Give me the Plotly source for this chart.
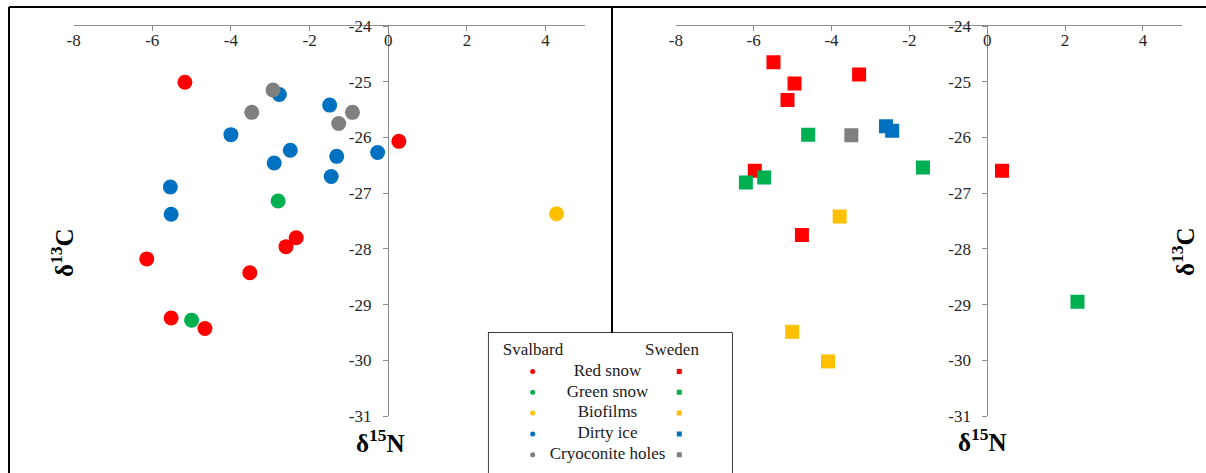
import plotly.graph_objects as go

# ---------------- data (δ15N, δ13C) ----------------
categories = ["Red snow", "Green snow", "Biofilms", "Dirty ice", "Cryoconite holes"]
colors = ["#FF0000", "#00B050", "#FFC000", "#0070C0", "#7F7F7F"]

# Svalbard (left panel, circles)
sval_red_x = [-5.17, 0.27, -2.34, -2.60, -6.14, -3.52, -5.52, -4.66]
sval_red_y = [-25.01, -26.07, -27.80, -27.96, -28.18, -28.43, -29.24, -29.43]
sval_green_x = [-2.80, -5.00]
sval_green_y = [-27.14, -29.28]
sval_bio_x = [4.28]
sval_bio_y = [-27.37]
sval_dirty_x = [-2.77, -1.49, -4.00, -2.49, -0.27, -1.31, -2.90, -1.45, -5.54, -5.52]
sval_dirty_y = [-25.23, -25.42, -25.95, -26.23, -26.27, -26.34, -26.46, -26.70, -26.89, -27.38]
sval_cryo_x = [-2.93, -3.47, -0.91, -1.26]
sval_cryo_y = [-25.15, -25.55, -25.55, -25.75]

# Sweden (right panel, squares)
swe_red_x = [-5.49, -3.29, -4.95, -5.13, 0.38, -5.97, -4.76]
swe_red_y = [-24.65, -24.87, -25.03, -25.33, -26.60, -26.60, -27.75]
swe_green_x = [-4.60, -1.65, -5.73, -6.20, 2.32]
swe_green_y = [-25.95, -26.54, -26.72, -26.81, -28.95]
swe_bio_x = [-3.79, -5.01, -4.09]
swe_bio_y = [-27.42, -29.49, -30.02]
swe_dirty_x = [-2.60, -2.44]
swe_dirty_y = [-25.80, -25.88]
swe_cryo_x = [-3.49]
swe_cryo_y = [-25.96]

x_range = [-8, 5]
y_range = [-31, -24]
x_tick_vals = [-8, -6, -4, -2, 0, 2, 4]
x_tick_text = ["-8", "-6", "-4", "-2", "0", "2", "4"]
y_tick_vals = [-31, -30, -29, -28, -27, -26, -25, -24]
y_tick_text = ["-31", "-30", "-29", "-28", "-27", "-26", "-25", "-24"]

# ---------------- layout helpers ----------------
W, H = 1206, 473
def px(v):
    return v / W
def py(v):
    return 1 - v / H

SERIF = "Liberation Serif, Times New Roman, serif"
AX = "#8C8C8C"
TXT = "#262626"

fig = go.Figure()

sval = [(sval_red_x, sval_red_y), (sval_green_x, sval_green_y), (sval_bio_x, sval_bio_y),
        (sval_dirty_x, sval_dirty_y), (sval_cryo_x, sval_cryo_y)]
swe = [(swe_red_x, swe_red_y), (swe_green_x, swe_green_y), (swe_bio_x, swe_bio_y),
       (swe_dirty_x, swe_dirty_y), (swe_cryo_x, swe_cryo_y)]

for (xs, ys), c, name in zip(sval, colors, categories):
    fig.add_trace(go.Scatter(x=xs, y=ys, mode="markers", name="Svalbard " + name,
                             marker=dict(symbol="circle", size=15, color=c, line=dict(width=0)),
                             xaxis="x", yaxis="y", showlegend=False))
for (xs, ys), c, name in zip(swe, colors, categories):
    fig.add_trace(go.Scatter(x=xs, y=ys, mode="markers", name="Sweden " + name,
                             marker=dict(symbol="square", size=14, color=c, line=dict(width=0)),
                             xaxis="x2", yaxis="y2", showlegend=False))

# ---------------- custom legend (in its own hidden axes) ----------------
box_l, box_r, box_t = 488.7, 732.0, 333.0
leg_rows = [38.5, 59.3, 80.1, 100.9, 121.7]
fig.add_trace(go.Scatter(x=[44] * 5, y=leg_rows, mode="markers",
                         marker=dict(symbol="circle", size=5, color=colors),
                         xaxis="x3", yaxis="y3", showlegend=False, hoverinfo="skip"))
fig.add_trace(go.Scatter(x=[190.6] * 5, y=leg_rows, mode="markers",
                         marker=dict(symbol="square", size=5, color=colors),
                         xaxis="x3", yaxis="y3", showlegend=False, hoverinfo="skip"))
fig.add_trace(go.Scatter(x=[118.8] * 5, y=leg_rows, mode="text", text=categories,
                         textposition="middle center",
                         textfont=dict(family=SERIF, size=17, color="#1A1A1A"),
                         xaxis="x3", yaxis="y3", showlegend=False, hoverinfo="skip"))
fig.add_trace(go.Scatter(x=[44.3, 183.3], y=[17.7, 17.7], mode="text", text=["Svalbard", "Sweden"],
                         textposition="middle center",
                         textfont=dict(family=SERIF, size=17, color="#1A1A1A"),
                         xaxis="x3", yaxis="y3", showlegend=False, hoverinfo="skip"))

def xax(domain, anchor):
    return dict(domain=domain, range=x_range, side="top", anchor=anchor, showline=True,
                linecolor=AX, linewidth=1, ticks="inside", ticklen=5, tickcolor=AX,
                tickmode="array", tickvals=x_tick_vals, ticktext=x_tick_text,
                ticklabelposition="inside", ticklabeloverflow="allow", ticklabelstandoff=4,
                showgrid=False, zeroline=False,
                tickfont=dict(family=SERIF, size=17, color=TXT), fixedrange=True)

def yax(position):
    return dict(domain=[py(416), py(26)], range=y_range, anchor="free", position=position,
                side="left", showline=True, linecolor=AX, linewidth=1, ticks="outside", ticklen=5,
                tickcolor=AX, tickmode="array", tickvals=y_tick_vals, ticktext=y_tick_text,
                ticklabelstandoff=8, showgrid=False, zeroline=False,
                tickfont=dict(family=SERIF, size=17, color=TXT), fixedrange=True)

title_font = dict(family=SERIF, size=25, color="#000000")
def title(xp, yp, text, angle=0):
    return dict(x=px(xp), y=py(yp), xref="paper", yref="paper", text=text, textangle=angle,
                xanchor="center", yanchor="middle", showarrow=False, font=title_font)

annotations = [
    title(62, 253, "<b>δ<sup>13</sup>C</b>", -90),
    title(1183, 252, "<b>δ<sup>13</sup>C</b>", -90),
    title(380, 441, "<b>δ<sup>15</sup>N</b>"),
    title(982.7, 440, "<b>δ<sup>15</sup>N</b>"),
]

shapes = [
    # outer frame (top, left) and panel separator
    dict(type="line", xref="paper", yref="paper", x0=px(9), x1=1, y0=py(7), y1=py(7),
         line=dict(color="black", width=2), layer="above"),
    dict(type="line", xref="paper", yref="paper", x0=px(9), x1=px(9), y0=py(7), y1=0,
         line=dict(color="black", width=2), layer="above"),
    dict(type="line", xref="paper", yref="paper", x0=px(612), x1=px(612), y0=py(7), y1=py(box_t),
         line=dict(color="black", width=2), layer="above"),
    # legend box
    dict(type="rect", xref="paper", yref="paper", x0=px(box_l), x1=px(box_r), y0=py(box_t), y1=-0.05,
         line=dict(color="black", width=1.5), fillcolor="white", layer="below"),
]

fig.update_layout(
    width=W, height=H, margin=dict(l=0, r=0, t=0, b=0, autoexpand=False),
    paper_bgcolor="white", plot_bgcolor="white",
    xaxis=xax([px(73.6), px(584.9)], "y"), yaxis=yax(px(387.8)),
    xaxis2=xax([px(675.8), px(1181.8)], "y2"), yaxis2=yax(px(987.3)),
    xaxis3=dict(domain=[px(box_l), px(box_r)], range=[0, box_r - box_l], visible=False,
                fixedrange=True, anchor="y3"),
    yaxis3=dict(domain=[0, py(box_t)], range=[H - box_t, 0], visible=False, fixedrange=True,
                anchor="x3"),
    annotations=annotations, shapes=shapes, showlegend=False,
)

fig.write_html("out.html",
               config={"displayModeBar": False},
               post_script="document.body.style.margin='0';"
                           "document.documentElement.style.overflow='hidden';")
